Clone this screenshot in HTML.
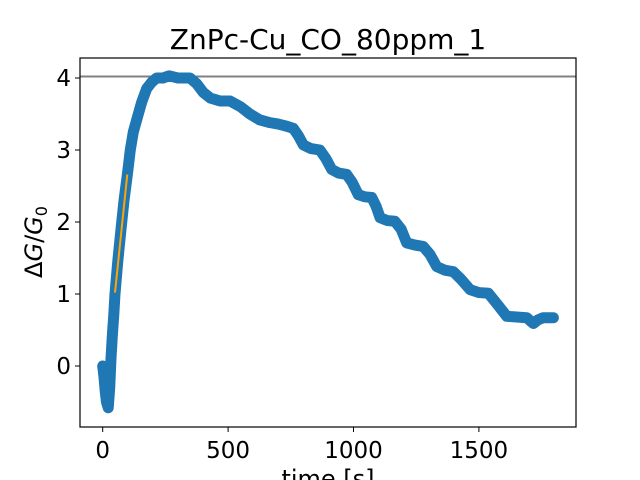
<!DOCTYPE html>
<html><head><meta charset="utf-8"><style>
body{margin:0;background:#fff;}
svg{display:block;font-family:"DejaVu Sans","Liberation Sans",sans-serif;}
</style></head><body>
<svg id="chart" width="640" height="480">
<rect width="640" height="480" fill="#fff"/>
<text x="328" y="49" text-anchor="middle" font-size="28">ZnPc-Cu_CO_80ppm_1</text>
<g id="plot"></g>
<rect x="80" y="58" width="496" height="369" fill="none" stroke="#000" stroke-width="1.2"/>
<text x="328" y="487" text-anchor="middle" font-size="24">time [s]</text>
<text transform="translate(42,242) rotate(-90)" text-anchor="middle" font-size="24">Δ<tspan font-style="italic">G</tspan>/<tspan font-style="italic">G</tspan><tspan font-size="16" dy="5">0</tspan></text>
</svg>
<script>
const times=[0,5,10,15,22,28,33,38,44,49,60,73,85,98,110,122,138,155,175,195,215,240,265,300,348,375,401,430,468,508,550,587,625,667,700,734,760,780,800,830,866,890,913,940,973,995,1019,1045,1073,1090,1106,1135,1165,1190,1212,1245,1278,1305,1332,1365,1398,1430,1465,1500,1538,1575,1611,1650,1691,1717,1735,1756,1797];
const values=[0,-0.15,-0.35,-0.5,-0.58,-0.3,0.1,0.4,0.7,1.0,1.45,1.9,2.3,2.65,3.0,3.25,3.45,3.66,3.85,3.94,4.0,4.0,4.03,4.0,4.0,3.92,3.8,3.72,3.68,3.68,3.6,3.5,3.42,3.38,3.36,3.33,3.3,3.2,3.07,3.02,3.0,2.88,2.73,2.68,2.66,2.55,2.38,2.35,2.34,2.22,2.06,2.02,2.01,1.9,1.71,1.68,1.66,1.55,1.38,1.33,1.31,1.2,1.06,1.02,1.01,0.85,0.69,0.68,0.67,0.59,0.64,0.67,0.67];
const fitTimes=[49,98];
const fitValues=[1.02,2.66];
const refLevel=[4.02];
const xTicks=[0,500,1000,1500];
const yTicks=[0,1,2,3,4];
const X=t=>102.7+t*0.2508, Y=v=>366-v*72;
const NS='http://www.w3.org/2000/svg', g=document.getElementById('plot'), svg=document.getElementById('chart');
function mk(tag,a,p){const e=document.createElementNS(NS,tag);for(const k in a)e.setAttribute(k,a[k]);(p||g).appendChild(e);return e;}
const hl=mk('line',{x1:80,x2:576,y1:Y(refLevel[0]),y2:Y(refLevel[0]),stroke:'#808080','stroke-width':2});


const pts=times.map((t,i)=>X(t)+','+Y(values[i])).join(' ');
const pl=mk('polyline',{points:pts,fill:'none',stroke:'#1f77b4','stroke-width':11,'stroke-linejoin':'round','stroke-linecap':'round'});


const fl=mk('line',{x1:X(fitTimes[0]),y1:Y(fitValues[0]),x2:X(fitTimes[1]),y2:Y(fitValues[1]),stroke:'#ffa500','stroke-width':2});


xTicks.forEach(t=>{
  const l=mk('line',{x1:X(t),x2:X(t),y1:427,y2:432,stroke:'#000'},svg);
  
  
  const tx=mk('text',{x:X(t),y:458,'text-anchor':'middle','font-size':23},svg);tx.textContent=t;
  
  
});
yTicks.forEach(v=>{
  const l=mk('line',{x1:75,x2:80,y1:Y(v),y2:Y(v),stroke:'#000'},svg);
  
  
  const tx=mk('text',{x:71,y:Y(v)+8,'text-anchor':'end','font-size':23},svg);tx.textContent=v;
  
  
});
</script>
</body></html>
